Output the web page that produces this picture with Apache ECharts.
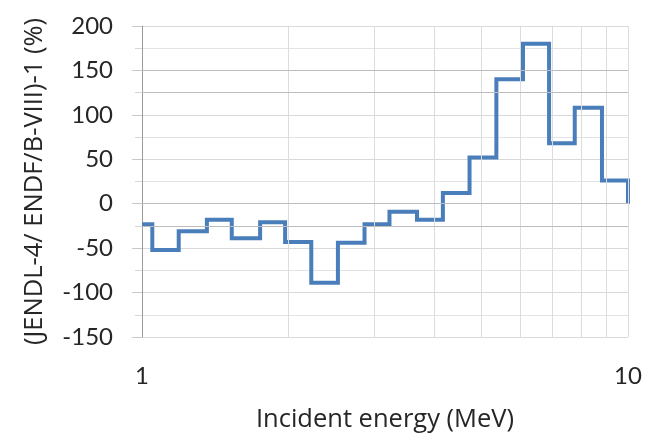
<!DOCTYPE html>
<html>
<head>
<meta charset="utf-8">
<script src="https://cdn.jsdelivr.net/npm/echarts@6/dist/echarts.min.js"></script>
<style>
html,body{margin:0;padding:0;background:#fff;}
#chart{width:650px;height:436px;}
</style>
</head>
<body>
<div id="chart"></div>
<script>
// Bin lower edges (MeV) and step values (%)
var binEdges = [1.0, 1.05, 1.19, 1.36, 1.53, 1.75, 1.97, 2.23, 2.53, 2.87, 3.23, 3.68, 4.16, 4.72, 5.36, 6.08, 6.88, 7.77, 8.84];
var binValues = [-23, -52, -31, -18, -39, -21, -43, -89, -44, -23, -9, -18, 12, 52, 140, 180, 68, 108, 26];
var lastEdge = 10;
var endValue = 0;
var xTickLabels = ['1', '10'];
var xGridValues = [2, 3, 4, 5, 6, 7, 8, 9, 10];
var yDarkLines = [150, 125, 0, -25];

var stepData = [];
for (var i = 0; i < binEdges.length; i++) stepData.push([binEdges[i], binValues[i]]);
stepData.push([lastEdge, binValues[binValues.length - 1]]);
stepData.push([lastEdge, endValue]);

var font = 'Lato, "Open Sans", sans-serif';
var titleFont = '"Open Sans", Lato, sans-serif';
var chart = echarts.init(document.getElementById('chart'), null, {renderer: 'canvas'});
chart.setOption({
  animation: false,
  grid: {left: 142, right: 22, top: 26, bottom: 99, containLabel: false, outerBoundsMode: 'none'},
  xAxis: {
    type: 'log', logBase: 10, min: 1, max: 10,
    name: 'Incident energy (MeV)', nameLocation: 'middle', nameGap: 70,
    nameTextStyle: {fontFamily: titleFont, fontSize: 25.5, color: '#262626'},
    axisLine: {show: false},
    axisTick: {show: false},
    splitLine: {show: false},
    axisLabel: {
      margin: 27, fontFamily: font, fontSize: 24, color: '#262626',
      formatter: function (v) {
        var s = String(Math.round(v));
        return xTickLabels.indexOf(s) >= 0 ? s : '';
      }
    }
  },
  yAxis: {
    type: 'value', min: -150, max: 200, interval: 50,
    name: '(JENDL-4/ ENDF/B-VIII)-1 (%)', nameLocation: 'middle', nameGap: 94,
    nameTextStyle: {fontFamily: titleFont, fontSize: 25.5, color: '#262626'},
    axisLine: {show: true, onZero: false, lineStyle: {color: '#9a9a9a', width: 1}},
    axisTick: {show: true, length: 10, lineStyle: {color: '#c8c8c8'}},
    minorTick: {show: true, splitNumber: 2, length: 7, lineStyle: {color: '#d6d6d6'}},
    splitLine: {show: true, lineStyle: {color: '#d9d9d9', width: 1}},
    minorSplitLine: {show: true, lineStyle: {color: '#e3e3e3', width: 1}},
    axisLabel: {margin: 29, fontFamily: font, fontSize: 24, color: '#262626'}
  },
  series: [
    {
      type: 'line', data: [], z: 1, silent: true,
      markLine: {
        silent: true, symbol: ['none', 'none'], animation: false,
        label: {show: false},
        data: xGridValues.map(function (v) { return {xAxis: v, lineStyle: {color: '#dcdcdc', width: 1, type: 'solid'}}; })
          .concat(yDarkLines.map(function (v) { return {yAxis: v, lineStyle: {color: '#bdbdbd', width: 1, type: 'solid'}}; }))
      }
    },
    {
      type: 'line', step: 'end', data: stepData, z: 3,
      symbol: 'none', showSymbol: false,
      lineStyle: {color: '#4a7ebb', width: 4, join: 'miter', cap: 'butt'}
    }
  ]
});
</script>
</body>
</html>
